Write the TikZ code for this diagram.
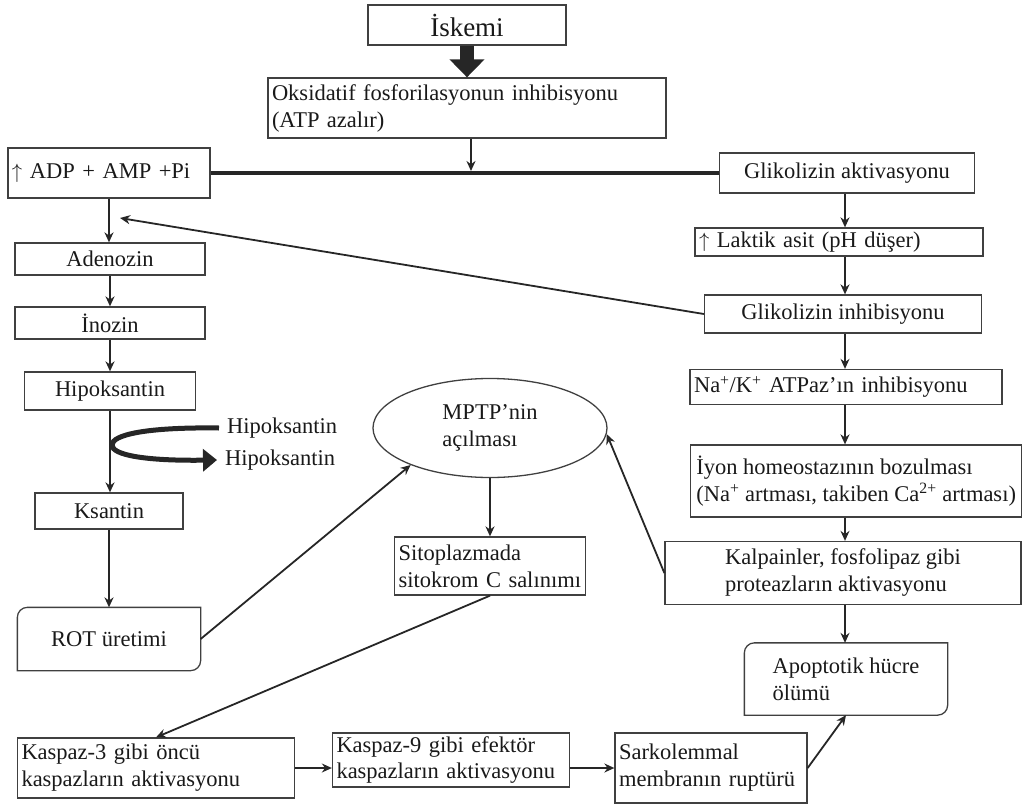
\documentclass[tikz,border=0pt]{standalone}
\usepackage{fontspec}
\setmainfont{Liberation Serif}
\usetikzlibrary{arrows.meta,shapes.geometric}

\tikzset{
	box/.style={draw=black!75, line width=1.3pt, inner xsep=4pt, inner ysep=2pt, text=black!90, font=\fontsize{22.5}{27}\selectfont},
	lbox/.style={box, text width=#1, align=left},
	cbox/.style={box, minimum width=#1, align=center},
	label/.style={inner xsep=8pt, inner ysep=0pt, text=black!90, font=\fontsize{22.5}{27}\selectfont},
	conn/.style={line width=1.8pt, black!85, -{Stealth[length=10pt,width=9pt]}},
}

\begin{document}
\begin{tikzpicture}[x=1pt,y=-1pt]
	\useasboundingbox (0,0) rectangle (1023,808);

	% top
	\node[cbox=198pt, minimum height=40pt, font=\fontsize{27}{30}\selectfont] (isk) at (467,25) {İskemi};
	\node[lbox=390pt, minimum height=60pt] (oks) at (467,108) {Oksidatif fosforilasyonun inhibisyonu\\(ATP azalır)};
	\node[lbox=194pt, minimum height=50pt] (adp) at (109,173) {$\uparrow$ ADP + AMP +Pi};
	\node[cbox=255pt, minimum height=40pt] (gla) at (847,173) {Glikolizin aktivasyonu};

	% left column
	\node[cbox=190pt, minimum height=32pt] (ade) at (110,259) {Adenozin};
	\node[cbox=190pt, minimum height=32pt] (ino) at (110,323) {İnozin};
	\node[cbox=171pt, minimum height=38pt] (hip) at (110,391) {Hipoksantin};
	\node[cbox=148pt, minimum height=36pt] (ksa) at (109,511) {Ksantin};
	\node[cbox=182pt, minimum height=62pt, draw=none] (rot) at (109,639) {ROT üretimi};
	\node[label, anchor=west] (hipin) at (219,428) {Hipoksantin};
	\node[label, anchor=west] (hipout) at (217,460) {Hipoksantin};

	% right column
	\node[lbox=280pt, minimum height=28pt] (lak) at (839,242) {$\uparrow$ Laktik asit (pH düşer)};
	\node[cbox=277pt, minimum height=38pt] (gli) at (843,314) {Glikolizin inhibisyonu};
	\node[lbox=304pt, minimum height=35pt] (nak) at (846,387) {Na\textsuperscript{+}/K\textsuperscript{+} ATPaz'ın inhibisyonu};
	\node[box, align=left, anchor=west, minimum width=331pt, minimum height=72pt] (iyo) at (690,481) {İyon homeostazının bozulması\\(Na\textsuperscript{+} artması, takiben Ca\textsuperscript{2+} artması)};
	\node[box, align=left, minimum width=356pt, minimum height=63pt] (kal) at (843,573) {Kalpainler, fosfolipaz gibi\\proteazların aktivasyonu};
	\node[box, align=left, minimum width=202pt, minimum height=71pt, draw=none] (apo) at (846,679) {Apoptotik hücre\\ölümü};
	\coordinate (col) at (845,0);

	% middle
	\node[box, ellipse, align=left, minimum width=234pt, minimum height=99pt, inner sep=0pt] (mptp) at (490,428) {MPTP'nin\\açılması};
	\node[lbox=183pt, minimum height=58pt] (sit) at (490,566) {Sitoplazmada\\sitokrom C salınımı};

	% bottom row
	\node[lbox=269pt, minimum height=60pt] (ka3) at (156,768) {Kaspaz-3 gibi öncü\\kaspazların aktivasyonu};
	\node[lbox=229pt, minimum height=54pt] (ka9) at (451,760) {Kaspaz-9 gibi efektör\\kaspazların aktivasyonu};
	\node[lbox=184pt, minimum height=70pt] (sar) at (711,768) {Sarkolemmal\\membranın ruptürü};

	% boxes with two round corners
	\draw[draw=black!75, line width=1.3pt] ([yshift=-10pt]rot.north west) arc[start angle=180, end angle=90, radius=10pt] -- (rot.north east) -- ([yshift=10pt]rot.south east) arc[start angle=0, end angle=-90, radius=10pt] -- (rot.south west) -- cycle;
	\draw[draw=black!75, line width=1.3pt] ([yshift=-10pt]apo.north west) arc[start angle=180, end angle=90, radius=10pt] -- (apo.north east) -- ([yshift=10pt]apo.south east) arc[start angle=0, end angle=-90, radius=10pt] -- (apo.south west) -- cycle;

	% arrows
	\draw[line width=14pt, black!85, -{Triangle[length=18pt,width=34pt]}] (isk.south) -- (oks.north);
	\draw[line width=4.5pt, black!85] (adp.east) -- (gla.west);
	\draw[conn, shorten >=2pt] ([xshift=4pt]oks.south) -- ([xshift=4pt]oks.south |- adp.east);
	\foreach \a/\b in {adp/ade, ade/ino, ino/hip, hip/ksa, ksa/rot}
		\draw[conn] (\a.south) -- (\a.south |- \b.north);
	\foreach \a/\b in {gla/lak, lak/gli, gli/nak, nak/iyo, iyo/kal, kal/apo}
		\draw[conn] (\a.south -| col) -- (\b.north -| col);
	\draw[line width=5pt, black!85, -{Triangle[length=14pt,width=22pt]}] (hipin.west) .. controls (145,427) and (112,435) .. (112,445) .. controls (112,455) and (145,461) .. (hipout.west);

	\coordinate (fb) at (120,218);
	\draw[conn] (gli.west) -- (fb);
	\draw[conn] (rot.east) -- (mptp.205);
	\draw[conn] (kal.west) -- (mptp.-3);
	\draw[conn] (mptp.south) -- (sit.north);
	\draw[conn] (sit.south) -- (ka3.north);
	\draw[conn] (ka3.east) -- (ka3.east -| ka9.west);
	\draw[conn] (sar.west -| ka9.east) -- (sar.west);
	\draw[conn] (sar.east) -- (apo.south);
\end{tikzpicture}
\end{document}
